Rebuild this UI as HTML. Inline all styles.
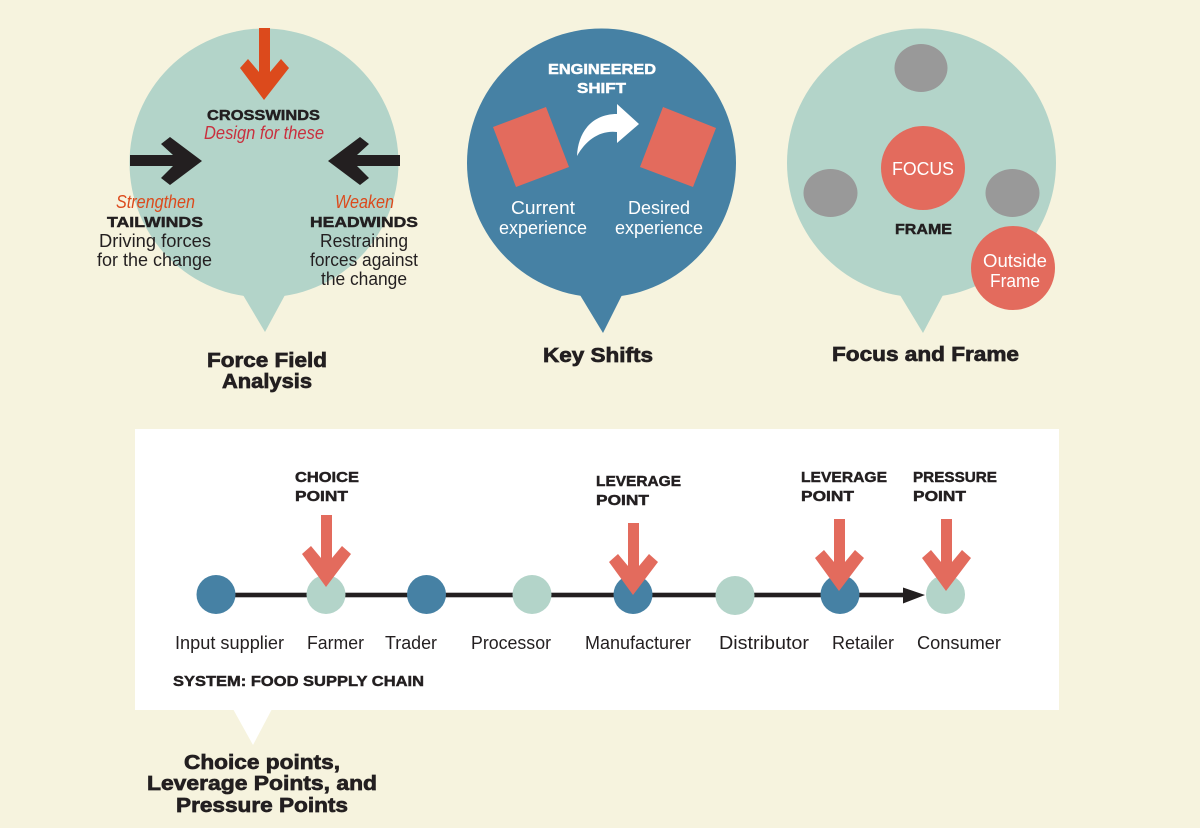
<!DOCTYPE html>
<html><head><meta charset="utf-8"><style>
html,body{margin:0;padding:0;background:#f6f3de}
svg{display:block}
text{font-family:"Liberation Sans",sans-serif;fill:#231f20}
.b{font-weight:bold;font-size:14.5px;stroke:#231f20;stroke-width:.45px}
.h{font-weight:bold;font-size:20px;stroke:#231f20;stroke-width:.7px}
.r{font-size:18px}
.i{font-style:italic;font-size:18px}
.w{fill:#fff}
.b.w{stroke:#fff}
</style></head><body>
<svg width="1200" height="828" viewBox="0 0 1200 828" xmlns="http://www.w3.org/2000/svg">
<rect width="1200" height="828" fill="#f6f3de"/>

<!-- Force field -->
<circle cx="264" cy="163" r="134.5" fill="#b3d4c9"/>
<path d="M243 295L265 332L285 295Z" fill="#b3d4c9"/>
<path d="M259 28H270V72L281 59L289 68L264 100L240 68L248 59L259 72Z" fill="#dc4a1c"/>
<path d="M130 155H173L161 144L170 137L202 161L170 185L161 178L173 166H130Z" fill="#231f20"/>
<path d="M400 155H357L369 144L360 137L328 161L360 185L369 178L357 166H400Z" fill="#231f20"/>
<text class="b" x="207" y="120" textLength="113" lengthAdjust="spacingAndGlyphs">CROSSWINDS</text>
<text class="i" x="204" y="139" textLength="120" lengthAdjust="spacingAndGlyphs" style="fill:#c9303e">Design for these</text>
<text class="i" x="116" y="208" textLength="79" lengthAdjust="spacingAndGlyphs" style="fill:#dc4a1c">Strengthen</text>
<text class="b" x="107" y="227" textLength="96" lengthAdjust="spacingAndGlyphs">TAILWINDS</text>
<text class="r" x="99" y="247" textLength="112" lengthAdjust="spacingAndGlyphs">Driving forces</text>
<text class="r" x="97" y="266" textLength="115" lengthAdjust="spacingAndGlyphs">for the change</text>
<text class="i" x="335" y="208" textLength="59" lengthAdjust="spacingAndGlyphs" style="fill:#dc4a1c">Weaken</text>
<text class="b" x="310" y="227" textLength="108" lengthAdjust="spacingAndGlyphs">HEADWINDS</text>
<text class="r" x="320" y="247" textLength="88" lengthAdjust="spacingAndGlyphs">Restraining</text>
<text class="r" x="310" y="266" textLength="108" lengthAdjust="spacingAndGlyphs">forces against</text>
<text class="r" x="321" y="285" textLength="86" lengthAdjust="spacingAndGlyphs">the change</text>
<text class="h" x="207" y="367" textLength="120" lengthAdjust="spacingAndGlyphs">Force Field</text>
<text class="h" x="222" y="388" textLength="90" lengthAdjust="spacingAndGlyphs">Analysis</text>

<!-- Key shifts -->
<circle cx="601.5" cy="163" r="134.5" fill="#4681a4"/>
<path d="M580 295L603 333L622 295Z" fill="#4681a4"/>
<path d="M493 127L546 107L569 167L516 187Z" fill="#e36b5d"/>
<path d="M663 107L716 128L693 187L640 167Z" fill="#e36b5d"/>
<path d="M577 156C578 132 592 114 617 114L617 104L639 124L617 143L617 132C600 130 586 140 577 156Z" fill="#fff"/>
<text class="b w" x="548" y="74" textLength="108" lengthAdjust="spacingAndGlyphs">ENGINEERED</text>
<text class="b w" x="577" y="93" textLength="49" lengthAdjust="spacingAndGlyphs">SHIFT</text>
<text class="r w" x="511" y="214" textLength="64" lengthAdjust="spacingAndGlyphs">Current</text>
<text class="r w" x="499" y="234" textLength="88" lengthAdjust="spacingAndGlyphs">experience</text>
<text class="r w" x="628" y="214" textLength="62" lengthAdjust="spacingAndGlyphs">Desired</text>
<text class="r w" x="615" y="234" textLength="88" lengthAdjust="spacingAndGlyphs">experience</text>
<text class="h" x="543" y="362" textLength="110" lengthAdjust="spacingAndGlyphs">Key Shifts</text>

<!-- Focus and frame -->
<circle cx="921.5" cy="163" r="134.5" fill="#b3d4c9"/>
<path d="M900 295L923 333L943 295Z" fill="#b3d4c9"/>
<ellipse cx="921" cy="68" rx="26.5" ry="24" fill="#999"/>
<ellipse cx="830.5" cy="193" rx="27" ry="24" fill="#999"/>
<ellipse cx="1012.5" cy="193" rx="27" ry="24" fill="#999"/>
<circle cx="923" cy="168" r="42" fill="#e36b5d"/>
<circle cx="1013" cy="268" r="42" fill="#e36b5d"/>
<text class="r w" x="892" y="175" textLength="62" lengthAdjust="spacingAndGlyphs">FOCUS</text>
<text class="b" x="895" y="234" textLength="57" lengthAdjust="spacingAndGlyphs">FRAME</text>
<text class="r w" x="983" y="267" textLength="64" lengthAdjust="spacingAndGlyphs">Outside</text>
<text class="r w" x="990" y="287" textLength="50" lengthAdjust="spacingAndGlyphs">Frame</text>
<text class="h" x="832" y="361" textLength="187" lengthAdjust="spacingAndGlyphs">Focus and Frame</text>

<!-- Supply chain -->
<rect x="135" y="429" width="924" height="281" fill="#fff"/>
<path d="M233 709L253 745L272 709Z" fill="#fff"/>
<rect x="216" y="592.7" width="690" height="4.6" fill="#231f20"/>
<path d="M903 587.5L925 595L903 603.5Z" fill="#231f20"/>
<circle cx="216" cy="594.5" r="19.5" fill="#4681a4"/>
<circle cx="326" cy="594.5" r="19.5" fill="#b3d4c9"/>
<circle cx="426.5" cy="594.5" r="19.5" fill="#4681a4"/>
<circle cx="532" cy="594.5" r="19.5" fill="#b3d4c9"/>
<circle cx="633" cy="594.5" r="19.5" fill="#4681a4"/>
<circle cx="735" cy="595.5" r="19.5" fill="#b3d4c9"/>
<circle cx="840" cy="594.5" r="19.5" fill="#4681a4"/>
<circle cx="945.5" cy="594.5" r="19.5" fill="#b3d4c9"/>
<path d="M321 515H332V558L342 546L351 554L326 587L302 554L311 546L321 558Z" fill="#e36b5d"/>
<path d="M628 523H639V566L649 554L658 562L633 595L609 562L618 554L628 566Z" fill="#e36b5d"/>
<path d="M834 519H845V562L855 550L864 558L839 591L815 558L824 550L834 562Z" fill="#e36b5d"/>
<path d="M941 519H952V562L962 550L971 558L946 591L922 558L931 550L941 562Z" fill="#e36b5d"/>

<text class="b" x="295" y="482" textLength="64" lengthAdjust="spacingAndGlyphs">CHOICE</text>
<text class="b" x="295" y="501" textLength="53" lengthAdjust="spacingAndGlyphs">POINT</text>
<text class="b" x="596" y="486" textLength="85" lengthAdjust="spacingAndGlyphs">LEVERAGE</text>
<text class="b" x="596" y="505" textLength="53" lengthAdjust="spacingAndGlyphs">POINT</text>
<text class="b" x="801" y="482" textLength="86" lengthAdjust="spacingAndGlyphs">LEVERAGE</text>
<text class="b" x="801" y="501" textLength="53" lengthAdjust="spacingAndGlyphs">POINT</text>
<text class="b" x="913" y="482" textLength="84" lengthAdjust="spacingAndGlyphs">PRESSURE</text>
<text class="b" x="913" y="501" textLength="53" lengthAdjust="spacingAndGlyphs">POINT</text>

<text class="r" x="175" y="649" textLength="109" lengthAdjust="spacingAndGlyphs">Input supplier</text>
<text class="r" x="307" y="649" textLength="57" lengthAdjust="spacingAndGlyphs">Farmer</text>
<text class="r" x="385" y="649" textLength="52" lengthAdjust="spacingAndGlyphs">Trader</text>
<text class="r" x="471" y="649" textLength="80" lengthAdjust="spacingAndGlyphs">Processor</text>
<text class="r" x="585" y="649" textLength="106" lengthAdjust="spacingAndGlyphs">Manufacturer</text>
<text class="r" x="719" y="649" textLength="90" lengthAdjust="spacingAndGlyphs">Distributor</text>
<text class="r" x="832" y="649" textLength="62" lengthAdjust="spacingAndGlyphs">Retailer</text>
<text class="r" x="917" y="649" textLength="84" lengthAdjust="spacingAndGlyphs">Consumer</text>
<text class="b" x="173" y="686" textLength="251" lengthAdjust="spacingAndGlyphs">SYSTEM: FOOD SUPPLY CHAIN</text>

<text class="h" x="184" y="769" textLength="156" lengthAdjust="spacingAndGlyphs">Choice points,</text>
<text class="h" x="147" y="790" textLength="230" lengthAdjust="spacingAndGlyphs">Leverage Points, and</text>
<text class="h" x="176" y="812" textLength="172" lengthAdjust="spacingAndGlyphs">Pressure Points</text>
</svg>
</body></html>
